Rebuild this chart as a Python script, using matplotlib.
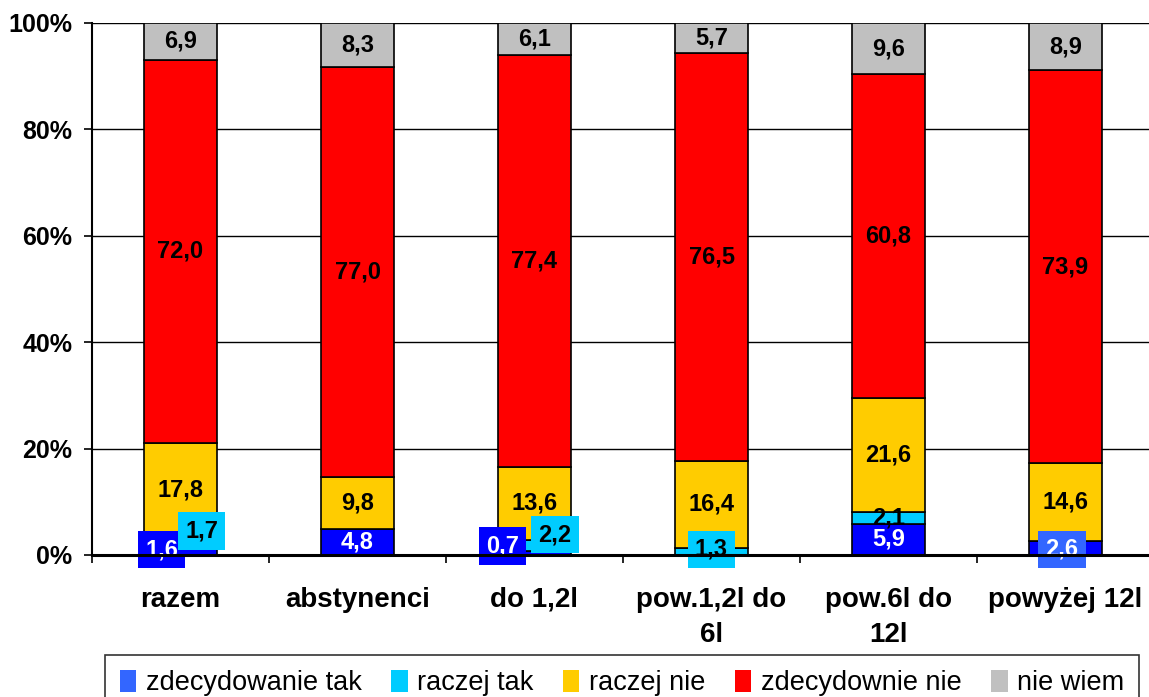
import numpy as np
import matplotlib.pyplot as plt
from matplotlib.patches import Patch

plt.rcParams['font.family'] = ['Liberation Sans', 'DejaVu Sans']

categories = ['razem', 'abstynenci', 'do 1,2l', 'pow.1,2l do\n6l', 'pow.6l do\n12l', 'powyżej 12l']
legend_names = ['zdecydowanie tak', 'raczej tak', 'raczej nie', 'zdecydownie nie', 'nie wiem']

zdecydowanie_tak = [1.6, 4.8, 0.7, 0.0, 5.9, 2.6]
raczej_tak = [1.7, 0.0, 2.2, 1.3, 2.1, 0.0]
raczej_nie = [17.8, 9.8, 13.6, 16.4, 21.6, 14.6]
zdecydowanie_nie = [72.0, 77.0, 77.4, 76.5, 60.8, 73.9]
nie_wiem = [6.9, 8.3, 6.1, 5.7, 9.6, 8.9]

bar_colors = ['#0000FF', '#00CCFF', '#FFCC00', '#FF0000', '#C0C0C0']
legend_colors = ['#3366FF', '#00CCFF', '#FFCC00', '#FF0000', '#C0C0C0']
text_colors = ['white', 'black', 'black', 'black', 'black']

data = np.array([zdecydowanie_tak, raczej_tak, raczej_nie, zdecydowanie_nie, nie_wiem])
pct = data / data.sum(axis=0) * 100

fig = plt.figure(figsize=(11.49, 6.97), dpi=100)
ax = fig.add_axes([92 / 1149, 1 - 555 / 697, 1062 / 1149, 532 / 697])

x = np.arange(len(categories))
width = 0.41
bottom = np.zeros(len(categories))
for i in range(len(data)):
    ax.bar(x, pct[i], width, bottom=bottom, color=bar_colors[i],
           edgecolor='black', linewidth=1.2, zorder=3)
    bottom += pct[i]

# small segments get a boxed label pushed aside (like Excel)
# (series, category): (x offset, y position, box colour)
boxed = {
    (0, 0): (-0.107, 1.0, '#0000FF'),
    (1, 0): (0.12, 4.5, '#00CCFF'),
    (0, 2): (-0.18, 1.7, '#0000FF'),
    (1, 2): (0.115, 3.8, '#00CCFF'),
    (1, 3): (0.0, 1.1, '#00CCFF'),
    (0, 5): (-0.02, 1.1, '#3366FF'),
}
for i in range(len(data)):
    base = pct[:i].sum(axis=0)
    for j in range(len(categories)):
        v = data[i, j]
        if v <= 0:
            continue
        label = ('%.1f' % v).replace('.', ',')
        if (i, j) in boxed:
            dx, yy, bc = boxed[(i, j)]
            ax.text(x[j] + dx, yy, label, ha='center', va='center',
                    fontsize=17, fontweight='bold', color=text_colors[i], zorder=5,
                    bbox=dict(boxstyle='square,pad=0.3', fc=bc, ec='none'))
        else:
            ax.text(x[j], base[j] + pct[i, j] / 2, label, ha='center', va='center',
                    fontsize=17, fontweight='bold', color=text_colors[i], zorder=4)

ax.set_xlim(-0.5, len(categories) - 0.5)
ax.set_ylim(0, 100)
ax.set_yticks(np.arange(0, 101, 20))
ax.set_yticklabels(['%d%%' % v for v in range(0, 101, 20)], fontsize=18, fontweight='bold')
ax.yaxis.grid(True, color='black', linewidth=1.0, zorder=0)
ax.set_axisbelow(True)
ax.tick_params(axis='y', length=6, width=1.2, direction='out', pad=8)

ax.set_xticks(x)
ax.set_xticklabels(categories, fontsize=20, fontweight='bold', linespacing=1.45)
ax.set_xticks(np.arange(-0.5, len(categories), 1.0), minor=True)
ax.tick_params(axis='x', which='major', length=0, pad=23)
ax.tick_params(axis='x', which='minor', length=6, width=1.2, direction='out')

for s in ['top', 'right']:
    ax.spines[s].set_visible(False)
ax.spines['left'].set_linewidth(1.5)
ax.spines['bottom'].set_linewidth(2.2)
ax.spines['bottom'].set_zorder(6)

handles = [Patch(facecolor=c, edgecolor='none') for c in legend_colors]
leg = fig.legend(handles, legend_names, loc='upper left',
                 bbox_to_anchor=(105 / 1149, 1 - 655 / 697), ncol=5,
                 fontsize=19.5, frameon=True, fancybox=False, edgecolor='black',
                 handlelength=0.6, handleheight=0.9, handletextpad=0.35,
                 columnspacing=1.1, borderpad=0.55, borderaxespad=0)
leg.get_frame().set_linewidth(1.2)

fig.savefig('out.png', dpi=100)
